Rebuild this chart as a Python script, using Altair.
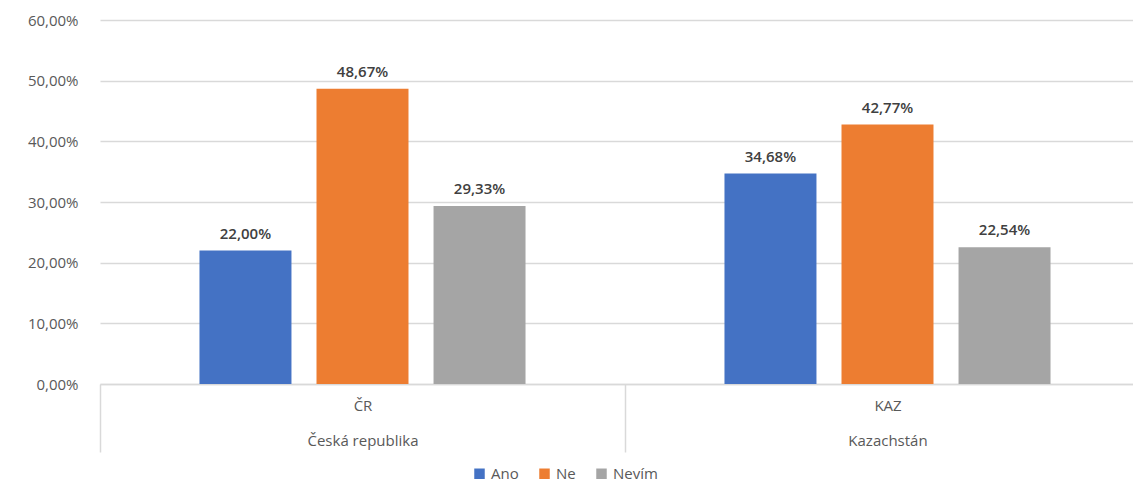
import altair as alt
import pandas as pd

countries = ["ČR", "KAZ"]
country_names = ["Česká republika", "Kazachstán"]
answers = ["Ano", "Ne", "Nevím"]
values_cr = [0.2200, 0.4867, 0.2933]
values_kaz = [0.3468, 0.4277, 0.2254]
colors = ["#4472C4", "#ED7D31", "#A5A5A5"]
y_ticks = [0.0, 0.1, 0.2, 0.3, 0.4, 0.5, 0.6]

rows = []
for c, n, vals in zip(countries, country_names, [values_cr, values_kaz]):
    for a, v in zip(answers, vals):
        rows.append({"country": c, "name": n, "answer": a, "value": v})
df = pd.DataFrame(rows)

label_expr = ""
for c, n in zip(countries, country_names):
    label_expr += f"datum.value == '{c}' ? ['{c}', '{n}'] : "
label_expr += "''"

FONT = "Open Sans"
GRAY = "#595959"
GRID = "#D9D9D9"

x = alt.X(
    "country:N", sort=countries,
    scale=alt.Scale(paddingInner=0, paddingOuter=0),
    axis=alt.Axis(title=None, labelAngle=0, tickBand="extent", tickSize=68,
                  tickColor=GRID, tickWidth=1.5, domainColor=GRID, domainWidth=1.5,
                  labelExpr=label_expr, labelLineHeight=35, labelPadding=-54,
                  labelFontSize=15, labelColor=GRAY, labelFont=FONT, grid=False),
)
xo = alt.XOffset("answer:N", sort=answers,
                 scale=alt.Scale(paddingInner=0.214, paddingOuter=0.85))
y = alt.Y(
    "value:Q", scale=alt.Scale(domain=[0, 0.6]),
    axis=alt.Axis(title=None, values=y_ticks, domain=False, ticks=False,
                  labelExpr="replace(format(datum.value, '.2%'), '.', ',')",
                  gridColor=GRID, gridWidth=1.5, labelPadding=22, labelFontSize=15,
                  labelColor=GRAY, labelFont=FONT),
)
color = alt.Color(
    "answer:N", sort=answers,
    scale=alt.Scale(domain=answers, range=colors),
    legend=alt.Legend(title=None, orient="none", direction="horizontal",
                      legendX=372, legendY=446, symbolType="square", symbolSize=110,
                      symbolStrokeWidth=0, labelFontSize=15, labelColor=GRAY,
                      labelFont=FONT, labelOffset=4, columnPadding=18),
)

base = alt.Chart(df).encode(x=x, xOffset=xo, y=y)
bars = base.mark_bar().encode(color=color)
texts = base.transform_calculate(
    label="replace(format(datum.value, '.2%'), '.', ',')"
).mark_text(baseline="bottom", dy=-9, fontSize=15, fontWeight=600,
            color="#404040", font=FONT).encode(text="label:N")

chart = alt.layer(bars, texts).properties(
    width=1050, height=364,
    autosize=alt.AutoSizeParams(type="none"),
    padding={"left": 92, "top": 12, "right": -17, "bottom": 100},
).configure_view(stroke=None)

chart.save("out.html", embed_options={"renderer": "svg", "actions": False})
